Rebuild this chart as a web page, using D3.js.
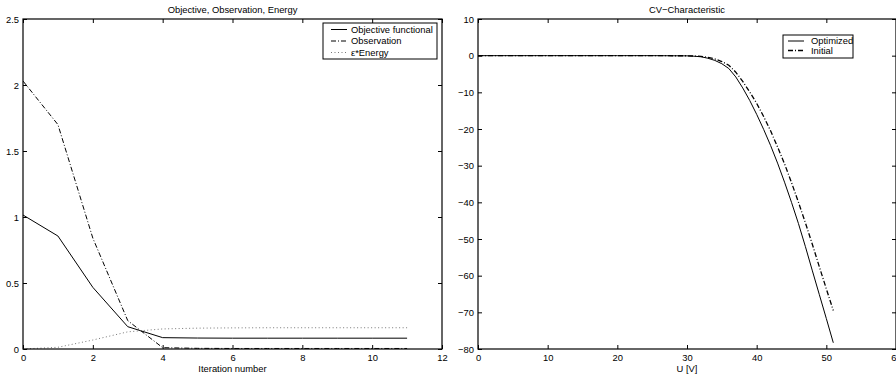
<!DOCTYPE html>
<html><head><meta charset="utf-8">
<script src="https://cdn.jsdelivr.net/npm/d3@7/dist/d3.min.js"></script>
<style>body{margin:0;background:#fff}svg{display:block;font-family:"Liberation Sans",Arial,sans-serif}</style>
</head><body>
<svg id="c" width="896" height="381"></svg>
<script>
// Left panel data
const iterations = [0,1,2,3,4,5,6,7,8,9,10,11];
const objective  = [1.015,0.856,0.467,0.169,0.086,0.083,0.082,0.082,0.082,0.082,0.082,0.082];
const observation= [2.03,1.70,0.84,0.215,0.01,0.005,0.004,0.004,0.004,0.004,0.004,0.004];
const energy     = [0.0,0.013,0.068,0.13,0.152,0.158,0.16,0.161,0.161,0.161,0.161,0.161];
const leftXTicks = [0,2,4,6,8,10,12];
const leftYTicks = [0,0.5,1,1.5,2,2.5];
const leftLegend = ["Objective functional","Observation","\u03b5*Energy"];

// Right panel data
const voltage   = [0,5,10,15,20,25,30,31,32,33,34,35,36,37,38,39,40,41,42,43,44,45,46,47,48,49,50,51];
const optimized = [0,0,0,0,0,0,-0.05,-0.15,-0.3,-0.7,-1.3,-2.2,-3.5,-5.8,-8.8,-12.2,-16.0,-20.1,-24.5,-29.3,-34.5,-40.0,-45.8,-52.1,-58.7,-65.2,-71.7,-78.3];
const initial   = [0,0,0,0,0,0,-0.03,-0.1,-0.2,-0.45,-0.9,-1.6,-2.6,-4.5,-7.0,-9.9,-13.0,-16.6,-20.5,-24.9,-29.5,-34.6,-40.0,-45.6,-51.5,-57.6,-63.6,-69.5];
const rightXTicks = [0,10,20,30,40,50,60];
const rightYTicks = [-80,-70,-60,-50,-40,-30,-20,-10,0,10];
const rightLegend = ["Optimized","Initial"];

const svg = d3.select("#c");
const FS = 9.4;
const DASHDOT = "5,2,1,2";

function panel(o){
  const g = svg.append("g");
  const x = d3.scaleLinear().domain(o.xd).range([o.x0,o.x1]);
  const y = d3.scaleLinear().domain(o.yd).range([o.y1,o.y0]);
  // ticks inward on all four sides
  const tl = 4;
  g.append("g").attr("transform",`translate(0,${o.y1})`)
    .call(d3.axisBottom(x).tickValues(o.xt).tickSize(-tl).tickPadding(5).tickFormat(d3.format("")))
    .call(s=>{s.select(".domain").remove();s.selectAll("text").attr("font-size",FS).attr("fill","#000").attr("font-family",null);});
  g.append("g").attr("transform",`translate(0,${o.y0})`)
    .call(d3.axisTop(x).tickValues(o.xt).tickSize(-tl).tickFormat(""))
    .call(s=>s.select(".domain").remove());
  g.append("g").attr("transform",`translate(${o.x0},0)`)
    .call(d3.axisLeft(y).tickValues(o.yt).tickSize(-tl).tickPadding(4).tickFormat(d=>String(d).replace("-","\u2212")))
    .call(s=>{s.select(".domain").remove();s.selectAll("text").attr("font-size",FS).attr("fill","#000").attr("font-family",null);});
  g.append("g").attr("transform",`translate(${o.x1},0)`)
    .call(d3.axisRight(y).tickValues(o.yt).tickSize(-tl).tickFormat(""))
    .call(s=>s.select(".domain").remove());
  const clip = "clip"+o.id;
  svg.append("clipPath").attr("id",clip).append("rect").attr("x",o.x0).attr("y",o.y0).attr("width",o.x1-o.x0).attr("height",o.y1-o.y0+1);
  const line = d3.line().x(d=>x(d[0])).y(d=>y(d[1]));
  o.series.forEach(s=>{
    g.append("path").datum(s.xs.map((v,i)=>[v,s.ys[i]])).attr("d",line)
      .attr("fill","none").attr("stroke",s.color).attr("stroke-width",s.w)
      .attr("stroke-dasharray",s.dash).attr("clip-path",`url(#${clip})`);
  });
  g.append("rect").attr("x",o.x0).attr("y",o.y0).attr("width",o.x1-o.x0).attr("height",o.y1-o.y0)
    .attr("fill","none").attr("stroke","#000").attr("stroke-width",1.2);
  g.append("text").attr("x",(o.x0+o.x1)/2).attr("y",13).attr("text-anchor","middle").attr("font-size",FS).text(o.title);
  g.append("text").attr("x",(o.x0+o.x1)/2).attr("y",372).attr("text-anchor","middle").attr("font-size",FS).text(o.xlabel);
  // legend
  const L = o.legend;
  g.append("rect").attr("x",L.x).attr("y",L.y).attr("width",L.w).attr("height",L.h).attr("fill","#fff").attr("stroke","#000").attr("stroke-width",1);
  L.labels.forEach((t,i)=>{
    const s = o.series[i], ry = L.ry[i];
    g.append("line").attr("x1",L.lx0).attr("x2",L.lx1).attr("y1",ry).attr("y2",ry)
      .attr("stroke",s.color).attr("stroke-width",s.w).attr("stroke-dasharray",s.dash);
    g.append("text").attr("x",L.tx).attr("y",ry+3.3).attr("font-size",FS).text(t);
  });
}

panel({id:"L",x0:23,x1:442,y0:19,y1:349,xd:[0,12],yd:[0,2.5],xt:leftXTicks,yt:leftYTicks,
  title:"Objective, Observation, Energy",xlabel:"Iteration number",
  series:[
    {xs:iterations,ys:objective,color:"#000",w:1,dash:null},
    {xs:iterations,ys:observation,color:"#000",w:1,dash:DASHDOT},
    {xs:iterations,ys:energy,color:"#777",w:1,dash:"1,2.5"}],
  legend:{x:323,y:23,w:114,h:36,lx0:331,lx1:347,tx:351,ry:[29.5,41,52.5],labels:leftLegend}});

panel({id:"R",x0:478,x1:896,y0:19,y1:349,xd:[0,60],yd:[-80,10],xt:rightXTicks,yt:rightYTicks,
  title:"CV\u2212Characteristic",xlabel:"U [V]",
  series:[
    {xs:voltage,ys:optimized,color:"#000",w:1,dash:null},
    {xs:voltage,ys:initial,color:"#000",w:1.3,dash:DASHDOT}],
  legend:{x:783,y:35,w:70,h:23,lx0:788,lx1:804,tx:811,ry:[41,50.5],labels:rightLegend}});
</script>
</body></html>
